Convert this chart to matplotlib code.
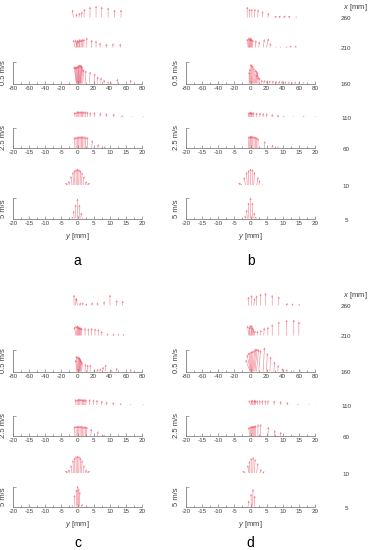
import matplotlib.pyplot as plt
from matplotlib.ticker import MultipleLocator

plt.rcParams['font.family'] = ['Liberation Sans', 'DejaVu Sans']
plt.rcParams['axes.unicode_minus'] = False
plt.rcParams['mathtext.fontset'] = 'custom'
plt.rcParams['mathtext.it'] = 'Liberation Sans:italic'
plt.rcParams['mathtext.rm'] = 'Liberation Sans'

# streamwise stations x [mm]
stations = [260, 210, 160, 110, 60, 10, 5]

# --- panel a: lateral position y [mm], streamwise u and lateral v [m/s]
a_y = {
    260: [-5.2, -1.9, 1.5, 4.7, 8, 15.5, 23, 30, 38, 46, 54],
    210: [-3, -2, -1, 0, 1, 2, 3, 4.5, 6, 8, 11.5, 17.5, 23, 28, 36, 44, 53],
    160: [-1.5, -1, -0.5, 0, 0.5, 1, 1.5, 2, 2.5, 3, 3.5, 4, 5, 6.5, 9.3, 14.7, 20.5, 24.6, 28.8, 33, 38, 42, 49.4, 66],
    110: [-0.8, -0.4, 0, 0.4, 0.8, 1.2, 1.6, 2, 2.5, 3, 3.9, 5.2, 7, 8.9, 11.2, 13.8, 16.9, 20.4],
    60: [-0.8, -0.4, 0, 0.4, 0.8, 1.2, 1.6, 2, 2.5, 3, 4.4, 6.3, 8.4, 12.2],
    10: [-2.9, -2.3, -1.7, -1.2, -0.8, -0.4, 0, 0.4, 0.8, 1.2, 1.7, 2.3, 2.9],
    5: [-1.5, -1, -0.5, 0, 0.5, 1, 1.5, 2, 2.5],
}
a_u = {
    260: [0.18, 0.09, 0.11, 0.14, 0.20, 0.25, 0.27, 0.25, 0.23, 0.18, 0.18],
    210: [0.18, 0.14, 0.18, 0.16, 0.18, 0.20, 0.18, 0.18, 0.20, 0.20, 0.23, 0.18, 0.16, 0.11, 0.09, 0.10, 0.09],
    160: [0.39, 0.39, 0.39, 0.39, 0.40, 0.41, 0.42, 0.43, 0.43, 0.42, 0.41, 0.39, 0.34, 0.32, 0.30, 0.27, 0.23, 0.16, 0.14, 0.09, 0.05, 0.03, 0.11, 0.09],
    110: [0.62, 0.69, 0.75, 0.75, 0.75, 0.75, 0.75, 0.75, 0.75, 0.69, 0.62, 0.62, 0.56, 0.50, 0.44, 0.25, 0.12, 0.12],
    60: [1.38, 1.44, 1.44, 1.50, 1.50, 1.50, 1.50, 1.50, 1.44, 1.38, 1.00, 0.50, 0.25, 0.04],
    10: [0.5, 1.0, 2.25, 3.25, 3.75, 4.0, 4.12, 4.0, 3.75, 3.25, 2.25, 1.0, 0.5],
    5: [0.5, 2.0, 3.5, 5.0, 3.5, 1.5, 0.25, 0.12, 0.08],
}
a_v = {
    260: [-0.02, 0.02, 0.03, 0.02, 0.01, 0, 0, 0, 0, 0, 0],
    210: [-0.04, 0.03, -0.03, 0.02, -0.02, 0.02, 0, 0.01, 0.01, 0, 0, 0, 0, 0, 0, 0, 0],
    160: [-0.05, -0.04, -0.03, -0.02, -0.01, 0, 0, 0.01, 0.02, 0.03, 0.03, 0.03, 0.03, 0.02, 0.02, 0.02, 0.02, 0.01, 0.01, 0, 0, 0, 0, 0],
    110: [-0.05, -0.03, 0, 0, 0, 0, 0, 0, 0.02, 0.03, 0.04, 0.04, 0.04, 0.04, 0.03, 0.03, 0.02, 0.02],
    60: [-0.05, -0.03, 0, 0, 0, 0, 0, 0.02, 0.03, 0.05, 0.08, 0.08, 0.05, 0.02],
    10: [-0.8, -0.5, -0.3, -0.2, -0.1, -0.05, 0, 0.05, 0.1, 0.2, 0.3, 0.5, 0.8],
    5: [-0.2, -0.2, -0.1, 0, 0.1, 0.2, 0.2, 0.1, 0.05],
}

# --- panel b
b_y = {
    260: [-4.1, -1.2, 1.7, 5, 9, 14.5, 21.5, 30, 35, 41, 47, 56],
    210: [-2.9, -2.2, -1.5, -0.8, 0, 0.8, 1.6, 2.5, 6.2, 10.3, 15.7, 19.8, 24, 31, 37, 44.7, 49.6, 55.8],
    160: [-1.7, -0.8, 0, 0.6, 1.2, 2, 2.9, 4, 5, 6.2, 7.4, 8.8, 10.3, 13.2, 16.5, 19.8, 23, 27, 31, 35, 39, 43, 47, 51, 55, 60, 65],
    110: [-0.7, -0.4, -0.1, 0.2, 0.5, 1, 1.9, 2.9, 3.9, 5, 6.7, 8.5, 10.3, 13.4, 16.5, 20.2],
    60: [-0.7, -0.3, 0, 0.3, 0.7, 1.1, 1.5, 1.9, 2.3, 4.3, 6.7, 8.5, 12.4],
    10: [-2.6, -1.55, -1, -0.5, 0, 0.5, 1, 1.9, 2.6, 3.6],
    5: [-1.5, -1, -0.5, 0, 0.5, 1, 1.5, 1.9, 2.6],
}
b_u = {
    260: [0.25, 0.20, 0.20, 0.20, 0.19, 0.15, 0.11, 0.04, 0.04, 0.04, 0.04, 0.02],
    210: [0.20, 0.23, 0.20, 0.23, 0.23, 0.20, 0.20, 0.18, 0.17, 0.14, 0.19, 0.21, 0.10, 0.02, 0.02, 0.03, 0.05, 0.05],
    160: [0.27, 0.34, 0.45, 0.43, 0.41, 0.36, 0.32, 0.30, 0.27, 0.23, 0.20, 0.16, 0.14, 0.09, 0.08, 0.075, 0.07, 0.07, 0.06, 0.057, 0.057, 0.05, 0.045, 0.045, 0.045, 0.034, 0.034],
    110: [0.62, 0.69, 0.69, 0.62, 0.62, 0.62, 0.56, 0.56, 0.50, 0.50, 0.38, 0.31, 0.19, 0.12, 0.19, 0.12],
    60: [1.50, 1.50, 1.56, 1.56, 1.50, 1.50, 1.44, 1.38, 1.25, 0.88, 0.44, 0.21, 0.06],
    10: [0.5, 2.0, 3.25, 3.75, 4.12, 4.0, 3.25, 2.0, 1.25, 0.25],
    5: [0.75, 2.25, 4.0, 5.25, 4.0, 1.5, 0.5, 0.12, 0.08],
}
b_v = {
    260: [0, 0, 0, 0.01, 0.01, 0.01, 0.02, 0.05, 0.05, 0.05, 0.05, 0.03],
    210: [-0.02, 0, 0.02, 0, 0.01, 0, 0, 0.01, 0.01, 0.01, 0.03, 0.05, 0.02, 0.02, 0.02, 0.02, 0.01, 0.01],
    160: [0, 0, 0.01, 0.02, 0.03, 0.045, 0.06, 0.07, 0.07, 0.045, 0.03, 0.02, 0.02, 0.02, 0.02, 0.03, 0.03, 0.03, 0.03, 0.03, 0.02, 0.02, 0.02, 0.02, 0.02, 0.02, 0.02],
    110: [0.10, 0.15, 0.10, 0.05, 0, 0, 0, 0.02, 0.02, 0.03, 0.03, 0.03, 0.02, 0.02, 0.02, 0.02],
    60: [0.10, 0.08, 0.05, 0, 0, 0, 0, 0.02, 0.03, 0.06, 0.06, 0.04, 0.02],
    10: [-1.0, -0.4, -0.2, -0.1, 0, 0.1, 0.2, 0.4, 0.2, 0.1],
    5: [-0.2, -0.2, -0.1, 0, 0.1, 0.2, 0.2, 0.1, 0.05],
}

# --- panel c
c_y = {
    260: [-4.3, -2.5, -0.2, 2.5, 5.6, 10.5, 17.6, 24.6, 33, 40.3, 48.6, 56],
    210: [-1.9, -1, -0.2, 0.6, 1.4, 2.2, 3, 4, 5.2, 9.3, 13.4, 17.6, 21.7, 25.8, 30, 37, 44.5, 50.6, 56.8],
    160: [-0.8, -0.2, 0.4, 1, 1.4, 2, 2.6, 3.1, 4, 5.2, 9.3, 12.2, 15.5, 20.5, 24.6, 27.9, 31.3, 34.1, 42.4, 48.6, 66],
    110: [-0.5, -0.1, 0.3, 0.7, 1.1, 1.5, 1.9, 2.3, 2.6, 3.7, 4.9, 6, 7.5, 9, 11.1, 13.4, 16.5, 20.4],
    60: [-0.8, -0.4, 0, 0.4, 0.8, 1.2, 1.6, 2, 2.4, 2.8, 4.1, 6.2, 8.2, 12.2],
    10: [-2.9, -2.3, -1.7, -1.2, -0.8, -0.4, 0, 0.4, 0.8, 1.2, 1.7, 2.3, 2.9],
    5: [-1.5, -0.8, -0.3, 0, 0.3, 0.6, 1.3, 2.1],
}
c_u = {
    260: [0.25, 0.18, 0.16, 0.07, 0.075, 0.05, 0.075, 0.075, 0.10, 0.25, 0.13, 0.11],
    210: [0.20, 0.23, 0.23, 0.22, 0.20, 0.20, 0.19, 0.19, 0.18, 0.175, 0.165, 0.175, 0.165, 0.15, 0.11, 0.05, 0.05, 0.04, 0.04],
    160: [0.27, 0.36, 0.35, 0.34, 0.325, 0.31, 0.28, 0.27, 0.24, 0.21, 0.175, 0.16, 0.16, 0.045, 0.06, 0.075, 0.11, 0.16, 0.04, 0.085, 0.06],
    110: [0.75, 0.75, 0.81, 0.81, 0.81, 0.75, 0.75, 0.75, 0.75, 0.75, 0.71, 0.66, 0.56, 0.44, 0.38, 0.25, 0.16, 0.12],
    60: [1.25, 1.31, 1.31, 1.31, 1.31, 1.31, 1.25, 1.25, 1.25, 1.19, 0.91, 0.62, 0.21, 0.04],
    10: [0.5, 0.88, 2.0, 3.25, 3.88, 4.25, 4.42, 4.25, 3.88, 3.25, 2.0, 0.88, 0.5],
    5: [0.42, 2.92, 4.25, 5.18, 4.5, 3.75, 0.68, 0.12],
}
c_v = {
    260: [0, 0.02, -0.02, 0.03, 0.03, 0.02, 0.02, 0.01, 0, 0, 0, 0],
    210: [-0.04, -0.02, 0, 0, 0, 0, 0, 0, 0, 0, 0, 0, 0, 0, 0, 0.01, 0.01, 0.01, 0.01],
    160: [-0.03, -0.02, 0, 0.01, 0.02, 0.02, 0.02, 0.02, 0.02, 0.01, 0.01, 0.01, 0.01, 0.01, 0.01, 0.01, 0.01, 0.02, 0, 0, 0],
    110: [-0.05, 0, 0, 0, 0, 0, 0, 0, 0.02, 0.03, 0.03, 0.03, 0.03, 0.03, 0.02, 0.02, 0.02, 0.02],
    60: [-0.05, -0.03, 0, 0, 0, 0, 0, 0.02, 0.03, 0.05, 0.08, 0.08, 0.05, 0.02],
    10: [-0.8, -0.5, -0.3, -0.2, -0.1, -0.05, 0, 0.05, 0.1, 0.2, 0.3, 0.5, 0.8],
    5: [-0.2, -0.15, -0.05, 0, 0.05, 0.1, 0.2, 0.1],
}

# --- panel d
d_y = {
    260: [-2.1, 0.8, 4.1, 7.4, 12.4, 18.6, 26.9, 35.1, 44.7, 51.7, 60],
    210: [-2.1, -1.2, -0.3, 0.6, 1.5, 2.5, 3.5, 5, 8.3, 12.4, 16.5, 21.5, 26.9, 35.1, 44.7, 53.7, 60],
    160: [-0.5, 0, 0.5, 1, 1.5, 2.1, 3, 4.1, 5.5, 7.4, 10.3, 15.7, 19.8, 24, 28.9, 33.9, 39.3, 45, 53.7, 62, 70.3],
    110: [0, 0.3, 0.6, 1, 1.3, 1.6, 2.1, 2.9, 3.7, 4.6, 5.4, 7.3, 9.3, 11.4, 14.7, 18.1, 20.3],
    60: [-0.3, 0, 0.3, 0.6, 0.9, 1.2, 1.6, 2.3, 3.1, 5.4, 7.4, 9.3, 13.4],
    10: [-1.55, -0.5, -0.2, 0.2, 0.7, 1.2, 1.9, 2.9, 3.9],
    5: [-1, -0.5, 0.2, 0.7, 1.2, 2.6, 3.1],
}
d_u = {
    260: [0.20, 0.24, 0.17, 0.23, 0.27, 0.29, 0.24, 0.21, 0.06, 0.05, 0.04],
    210: [0.23, 0.24, 0.20, 0.24, 0.20, 0.18, 0.14, 0.11, 0.11, 0.13, 0.18, 0.20, 0.26, 0.32, 0.36, 0.36, 0.32],
    160: [0.27, 0.39, 0.43, 0.45, 0.47, 0.48, 0.5, 0.53, 0.52, 0.51, 0.49, 0.55, 0.42, 0.34, 0.23, 0.15, 0.075, 0.057, 0.04, 0.027, 0.023],
    110: [0.62, 0.69, 0.62, 0.69, 0.62, 0.62, 0.62, 0.62, 0.62, 0.62, 0.62, 0.56, 0.5, 0.38, 0.19, 0.12, 0.06],
    60: [1.12, 1.25, 1.25, 1.29, 1.31, 1.31, 1.38, 1.5, 1.5, 1.16, 0.75, 0.54, 0.09],
    10: [0.5, 2.0, 3.0, 3.75, 4.0, 3.5, 2.5, 1.0, 0.5],
    5: [0.25, 1.5, 3.18, 4.42, 2.75, 0.18, 0.12],
}
d_v = {
    260: [-0.01, 0.01, 0.02, 0, 0, 0, 0, 0, 0.02, 0.02, 0.02],
    210: [-0.03, 0.02, -0.02, 0.02, 0.01, 0.01, 0.01, 0.01, 0.01, 0.01, 0.01, 0, 0, 0, 0, 0, 0],
    160: [-0.1, -0.08, -0.05, -0.03, 0, 0.02, 0.04, 0.05, 0.05, 0.05, 0.04, 0.03, 0.02, 0.02, 0.02, 0.01, 0.01, 0, 0, 0, 0],
    110: [-0.2, 0.1, -0.1, 0.1, 0, 0, 0, 0, 0, 0, 0.02, 0.02, 0.02, 0.02, 0.02, 0.02, 0.02],
    60: [-0.1, -0.05, 0, 0, 0, 0, 0, 0.02, 0.03, 0.06, 0.06, 0.04, 0.02],
    10: [-0.8, -0.3, -0.1, 0, 0.1, 0.2, 0.3, 0.4, 0.3],
    5: [-0.1, -0.1, 0, 0.05, 0.1, 0.05, 0.05],
}

W, H = 371, 550
fig = plt.figure(figsize=(W / 100, H / 100), dpi=100)

arrow_color = '#ec5064'
axis_color = '#808080'
text_color = '#404040'

# layout of each row in pixels (baseline measured from top of a half)
row_base = [17.5, 47.5, 83.5, 117, 148, 185, 218.5]
row_scale = [0.5, 0.5, 0.5, 2.5, 2.5, 5, 5]   # m/s covered by the row height
row_height = [22, 22, 22, 20, 20, 20, 20]
row_xmax = [80, 80, 80, 20, 20, 20, 20]
axis_rows = [160, 60, 5]

panels = [
    ('a', a_y, a_u, a_v, 13, 0, 261),
    ('b', b_y, b_u, b_v, 186, 0, 261),
    ('c', c_y, c_u, c_v, 13, 288, 543),
    ('d', d_y, d_u, d_v, 186, 288, 543),
]
axw = 129

for name, ys, us, vs, left, top, letter_y in panels:
    for i, st in enumerate(stations):
        ax = fig.add_axes([left / W, 1 - (top + row_base[i]) / H, axw / W, row_height[i] / H])
        ax.set_xlim(-row_xmax[i], row_xmax[i])
        ax.set_ylim(0, row_scale[i])
        ax.patch.set_visible(False)
        q = ax.quiver(ys[st], [0] * len(ys[st]), vs[st], us[st],
                      angles='uv', scale_units='y', scale=1, units='dots',
                      width=0.55, headwidth=4, headlength=4.5, headaxislength=4,
                      color=arrow_color, alpha=0.75)
        q.set_clip_on(False)
        if st in axis_rows:
            for s in ['top', 'right']:
                ax.spines[s].set_visible(False)
            for s in ['left', 'bottom']:
                ax.spines[s].set_color(axis_color)
                ax.spines[s].set_linewidth(0.6)
            step = 20 if row_xmax[i] == 80 else 5
            ax.xaxis.set_major_locator(MultipleLocator(step))
            ax.xaxis.set_minor_locator(MultipleLocator(step / 2))
            ax.set_yticks([row_scale[i]])
            ax.set_yticklabels([])
            ax.tick_params(axis='x', which='major', direction='in', length=2, width=0.5,
                           color=axis_color, labelsize=4.5, labelcolor=text_color, pad=1.5)
            ax.tick_params(axis='x', which='minor', direction='in', length=1.2, width=0.5,
                           color=axis_color)
            ax.tick_params(axis='y', direction='in', length=2, width=0.5, color=axis_color)
            ax.set_ylabel(f'{row_scale[i]:g} m/s', fontsize=5.5, color=text_color, labelpad=1)
        else:
            ax.axis('off')

    cx = (left + axw / 2) / W
    fig.text(cx, 1 - (top + 236) / H, r'$y$ [mm]', ha='center', va='center',
             fontsize=5.5, color=text_color)
    fig.text(cx, 1 - letter_y / H, name, ha='center', va='center', fontsize=10, color='black')

# station labels on the right of each half
for top in [0, 288]:
    fig.text(343 / W, 1 - (top + 7.5) / H, r'$x$ [mm]', ha='left', va='center',
             fontsize=5.5, color=text_color)
    for i, st in enumerate(stations):
        fig.text(346 / W, 1 - (top + row_base[i] + 1.5) / H, str(st), ha='center',
                 va='center', fontsize=4.5, color=text_color)

fig.savefig('out.png', dpi=100)
